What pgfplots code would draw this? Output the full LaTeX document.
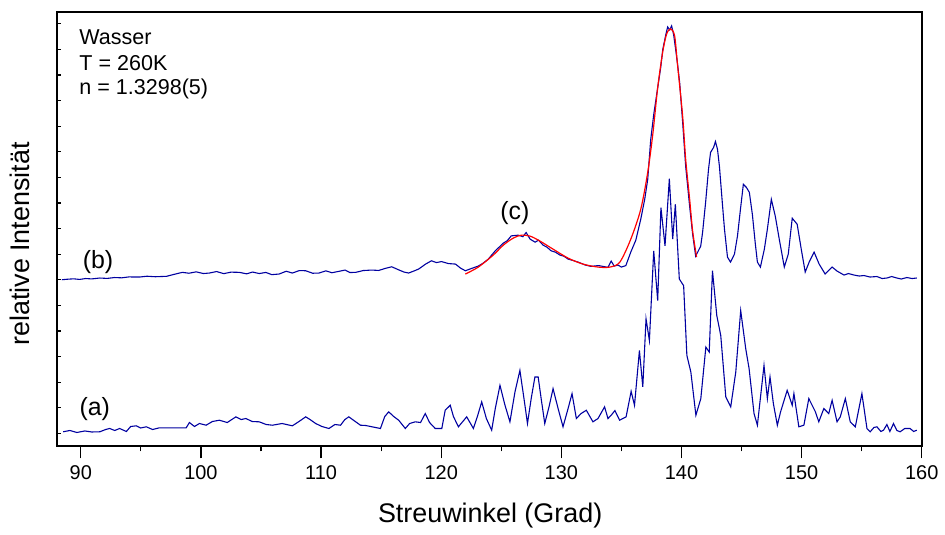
\documentclass[border=0pt]{standalone}
\usepackage{pgfplots}
\pgfplotsset{compat=1.18}
\usepackage{fontspec}
\setmainfont{Liberation Sans}
\definecolor{trace}{RGB}{0,0,160}
\begin{document}
\begin{tikzpicture}
\begin{axis}[
 scale only axis, width=434pt, height=218pt,
 xmin=88, xmax=160, ymin=0, ymax=436,
 axis line style={line width=1pt},
 xtick={90,100,...,160}, minor xtick={95,105,...,155},
 xtick pos=bottom, ytick pos=left,
 ytick=\empty,
 extra y ticks={13,38.7,...,425}, extra y tick labels={},
 extra y tick style={major tick length=2pt, tick align=inside},
 xtick align=outside,
 major tick length=6pt, minor tick length=2.5pt,
 tick style={black, line width=0.6pt},
 /pgf/number format/assume math mode=true,
 ticklabel style={font=\fontsize{10}{12}\selectfont},
 xlabel={Streuwinkel (Grad)}, ylabel={relative Intensität},
 label style={font=\fontsize{13.5}{16}\selectfont},
 xlabel style={at={(axis description cs:0.501,-0.158)},anchor=center},
 ylabel style={at={(axis description cs:-0.0426,0.466)},anchor=center},
]
% curve (b)
\addplot[trace, line width=0.55pt] coordinates {
(88.42,167.3)(88.9,167.8)(89.4,168.2)(89.9,167.6)(90.4,168.5)(90.9,168.1)(91.58,169)(92.2,168.6)(92.8,169.5)(93.4,169.2)(94.0,170.1)(94.89,170)(95.5,170.8)(96.2,170.3)(97.13,170.7)(97.7,172.5)(98.46,174.7)(99.0,173.8)(99.6,175.2)(100.2,173.5)(100.70,174)(101.3,175.5)(101.9,173.4)(102.5,174.9)(103.19,174.7)(103.8,173.2)(104.3,175)(104.85,173.5)(105.4,174.6)(105.9,172.4)(106.50,173)(107.1,175.8)(107.6,174)(108.2,176.5)(108.72,176.3)(109.3,173.8)(109.82,174)(110.4,176.2)(110.9,174.3)(111.48,175.7)(112.0,177)(112.4,174.5)(112.89,174.7)(113.5,176.5)(114.22,177)(114.8,176.6)(115.3,178.5)(115.88,180.3)(116.4,177.5)(116.9,175)(117.29,174)(117.8,176.4)(118.12,178)(118.7,183)(119.19,186.3)(119.6,184.5)(120.02,185.5)(120.6,183.5)(121.19,183)(121.6,179)(122.01,176.3)(122.5,178.5)(123.09,181)(123.5,184)(123.92,188)(124.50,196.3)(125.17,204)(125.5,206.5)(125.83,211.3)(126.41,212)(126.8,210.5)(127.07,214.7)(127.4,208)(127.82,205)(128.1,207)(128.48,202)(128.8,200)(129.15,196.3)(129.5,195)(129.89,192)(130.2,191)(130.56,188)(131.0,186.5)(131.39,185)(132.0,182)(132.47,180.7)(133.1,181.5)(133.88,179.7)(134.15,186)(134.4,181)(134.71,182)(135.0,180)(135.37,181.5)(135.78,195)(136.20,207)(136.61,228)(136.94,248)(137.19,268)(137.44,308)(137.69,333)(138.02,360)(138.27,380)(138.44,398)(138.69,413)(138.85,421)(139.02,418)(139.18,422)(139.35,413)(139.52,398)(139.68,383)(139.85,365)(140.10,325)(140.35,281)(140.68,241)(140.93,213)(141.18,191)(141.35,195)(141.60,201)(141.76,215)(142.01,245)(142.25,278)(142.42,295)(142.67,300)(142.83,306)(143.00,298)(143.16,281)(143.41,243)(143.58,218)(143.83,190)(144.08,185)(144.41,193)(144.66,211)(144.91,238)(145.15,263)(145.40,260)(145.65,255)(145.90,233)(146.15,203)(146.32,185)(146.57,180)(146.90,198)(147.15,218)(147.48,248)(147.81,231)(148.14,208)(148.56,180)(148.89,193)(149.22,229)(149.63,223)(149.97,198)(150.30,175)(150.63,185)(151.04,195)(151.46,183)(151.96,173)(152.54,180)(152.95,176)(153.53,172)(153.9,173.5)(154.36,172)(154.8,171)(155.19,171.5)(155.7,170)(156.27,170.5)(156.7,168.5)(157.10,169)(157.5,170.5)(157.93,169)(158.3,168)(158.76,169.5)(159.2,168.5)(159.59,169)
};
% fit (c)
\addplot[red, line width=0.6pt, smooth] coordinates {
(122.01,173)(123.09,180)(124.33,192)(125.17,202)(125.99,209)(126.66,212)(127.41,211)(128.23,206)(129.31,198)(130.56,189)(131.80,183)(133.05,180)(134.04,180)(134.87,185)(135.78,208)(136.61,238)(137.19,275)(137.61,313)(138.02,360)(138.44,396)(138.77,414)(139.10,419)(139.43,412)(139.68,382)(140.10,331)(140.35,288)(140.68,248)(140.93,216)(141.26,190)
};
% curve (a)
\addplot[trace, line width=0.55pt] coordinates {
(88.53,14.7)(89.09,16)(89.67,14)(90.33,15.5)(90.91,14.5)(91.58,14.7)(92.07,17)(92.41,18)(92.82,16)(93.23,18)(93.79,15)(94.15,20)(94.62,20.7)(94.98,18.5)(95.45,19.7)(95.97,17)(96.55,18.7)(98.77,18.7)(99.04,24)(99.46,20)(99.87,23)(100.43,21.3)(100.95,25)(101.53,26.3)(102.19,24)(102.91,29.7)(103.35,27)(103.74,28)(104.27,25)(104.85,24.7)(105.43,22)(105.95,21.3)(106.75,23)(107.61,20.7)(108.16,25)(108.72,29.7)(109.08,27)(109.55,23)(110.07,20)(110.65,18)(111.15,22)(111.62,21.3)(111.98,27)(112.31,29.7)(112.73,26)(113.28,21.3)(113.72,21)(114.24,19.7)(114.94,18)(115.30,30)(115.63,34.7)(116.05,30)(116.46,26.3)(117.01,18)(117.37,23)(117.84,24.7)(118.28,24)(118.67,33)(119.03,24)(119.50,18)(120.05,18)(120.33,36.3)(120.75,41.3)(121.02,30)(121.43,19.7)(122.12,29.7)(122.68,18)(123.01,30)(123.37,44.7)(123.76,28)(124.20,16.3)(124.50,38)(124.89,61.3)(125.31,41.3)(125.72,24.7)(126.14,54.7)(126.55,76.3)(126.97,41.3)(127.18,23)(127.49,48)(127.80,69.7)(128.07,69.7)(128.32,48)(128.62,23)(128.98,40)(129.31,58)(129.73,38)(130.14,19.7)(130.56,38)(130.89,53)(131.25,28)(131.64,33)(132.08,36.3)(132.63,24.7)(133.05,28)(133.60,39.7)(133.88,28)(134.15,31.3)(134.46,36)(134.85,26.3)(135.39,29.7)(135.81,55.3)(136.09,41.3)(136.50,96.3)(136.78,59.7)(137.05,128)(137.33,106.3)(137.69,196.3)(138.02,146.3)(138.29,239.7)(138.63,201.3)(138.99,268.7)(139.27,208)(139.49,243)(139.82,168)(140.18,161.3)(140.45,91.3)(140.78,74.7)(141.20,31.3)(141.61,48)(142.03,99.7)(142.31,94.7)(142.58,176.3)(142.94,131.3)(143.27,111.3)(143.69,49.7)(144.10,39.7)(144.52,74.7)(144.93,136.3)(145.35,98)(145.63,78)(146.04,33)(146.32,21.3)(146.87,81.3)(147.15,48)(147.37,69.7)(147.65,43)(147.98,21.3)(148.25,34.7)(148.80,56.3)(149.22,41.3)(149.36,53)(149.77,19.7)(150.19,21.3)(150.60,48)(151.15,34.7)(151.43,24.7)(151.85,38)(152.26,33)(152.54,46.3)(152.95,24.7)(153.22,29.7)(153.64,48)(154.05,24.7)(154.47,19.7)(155.02,53)(155.44,18)(155.71,14.7)(156.02,19)(156.27,19.7)(156.60,15)(156.82,16.3)(157.10,22)(157.35,15)(157.65,23)(157.93,16)(158.20,14.7)(158.59,18)(159.03,18)(159.33,15)(159.59,16.3)
};
\node[anchor=west, font=\fontsize{10.8}{13}\selectfont] at (axis cs:89.3,411) {Wasser};
\node[anchor=west, font=\fontsize{10.8}{13}\selectfont] at (axis cs:89.3,385) {T = 260K};
\node[anchor=west, font=\fontsize{10.8}{13}\selectfont] at (axis cs:89.3,359) {n = 1.3298(5)};
\node[font=\fontsize{12.5}{15}\selectfont] at (axis cs:91.43,184.7) {(b)};
\node[font=\fontsize{12.5}{15}\selectfont] at (axis cs:91.16,38) {(a)};
\node[font=\fontsize{12.5}{15}\selectfont] at (axis cs:126.14,234.7) {(c)};
\end{axis}
\path ([shift={(-28.5pt,-42pt)}]current axis.south west) rectangle ([shift={(10pt,6pt)}]current axis.north east);
\end{tikzpicture}
\end{document}
